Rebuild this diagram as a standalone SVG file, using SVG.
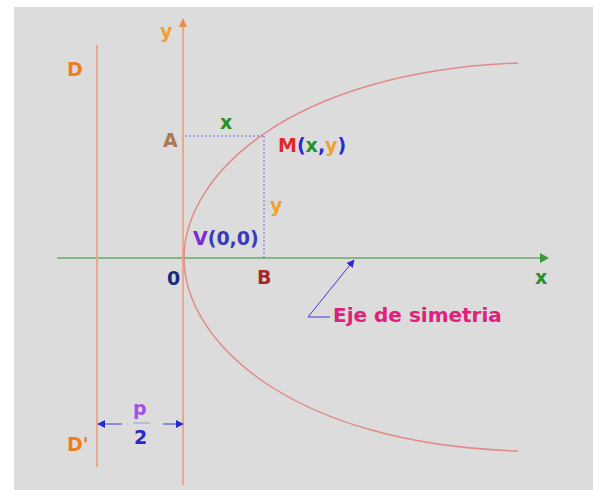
<svg xmlns="http://www.w3.org/2000/svg" width="593" height="490" viewBox="0 0 593 490">
<style>
text{font-family:"DejaVu Sans","Liberation Sans",sans-serif;font-weight:bold;font-size:19px}
text.big{font-size:20px}
.ax{stroke:#e8aa88;stroke-width:2;fill:none}
.dash{stroke:#6a6ae0;stroke-width:1;stroke-dasharray:2,2;fill:none}
.blue{stroke:#3a3ad8;stroke-width:1;fill:none}
</style>
<defs>
<marker id="ab" viewBox="0 0 10 10" refX="9" refY="5" markerWidth="8" markerHeight="8" markerUnits="userSpaceOnUse" orient="auto"><path d="M0,0 L10,5 L0,10 Z" fill="#2a2ad0"/></marker>
</defs>
<rect x="0" y="0" width="593" height="490" fill="#ffffff"/>
<rect x="14" y="7" width="579" height="483" fill="#dcdcdc"/>
<g id="axes">
<line x1="57" y1="258" x2="541" y2="258" stroke="#6aa86a" stroke-width="1.5"/>
<path d="M540,253 L549,258 L540,263 Z" fill="#3a9a3a"/>
<line class="ax" x1="183" y1="485" x2="183" y2="26"/>
<path d="M179,27 L183,18 L187,27 Z" fill="#ee8a4a"/>
<line id="directrix" class="ax" x1="97" y1="45" x2="97" y2="467"/>
</g>
<g id="parabola">
<path d="M518,63 C290,72 184,175 184,258 C184,341 290,444 518,451" fill="none" stroke="#e08a8a" stroke-width="1.5"/>
</g>
<g id="connectors">
<line class="dash" x1="185" y1="136" x2="264" y2="136"/>
<line class="dash" x1="264" y1="136" x2="264" y2="258"/>
<line class="blue" x1="122" y1="424" x2="98" y2="424" marker-end="url(#ab)"/>
<line class="blue" x1="163" y1="424" x2="183" y2="424" marker-end="url(#ab)"/>
<line x1="133" y1="423" x2="150" y2="423" stroke="#9a9ac8" stroke-width="1"/>
<polyline class="blue" points="330,317 308,317 354,260" marker-end="url(#ab)"/>
</g>
<g id="label-y-axis"><text x="160" y="38" fill="#f0a030">y</text></g>
<g id="label-D"><text x="67" y="76" fill="#ee7d22">D</text></g>
<g id="label-D2"><text x="67" y="451" fill="#ee7d22">D'</text></g>
<g id="label-A"><text x="163" y="147" fill="#a87858">A</text></g>
<g id="label-x-top"><text x="220" y="129" fill="#22922a">x</text></g>
<g id="label-M"><text x="278" y="152"><tspan fill="#e02828">M</tspan><tspan fill="#2a2ad0">(</tspan><tspan fill="#22922a">x</tspan><tspan fill="#2a2ad0">,</tspan><tspan fill="#f0a030">y</tspan><tspan fill="#2a2ad0">)</tspan></text></g>
<g id="label-y-side"><text x="270" y="212" fill="#f0a030">y</text></g>
<g id="label-V"><text x="193" y="245"><tspan fill="#7a2ad0">V</tspan><tspan fill="#3a3ab8">(0,0)</tspan></text></g>
<g id="label-0"><text x="167" y="285" fill="#1a2a80">0</text></g>
<g id="label-B"><text x="257" y="284" fill="#a82828">B</text></g>
<g id="label-x-axis"><text x="535" y="284" fill="#22922a">x</text></g>
<g id="label-p2"><text x="133" y="415" fill="#a050e8">p</text><text x="134" y="444" fill="#2a2ac8">2</text></g>
<g id="label-eje"><text class="big" x="333" y="322" fill="#e0207a">Eje de simetria</text></g>
</svg>
